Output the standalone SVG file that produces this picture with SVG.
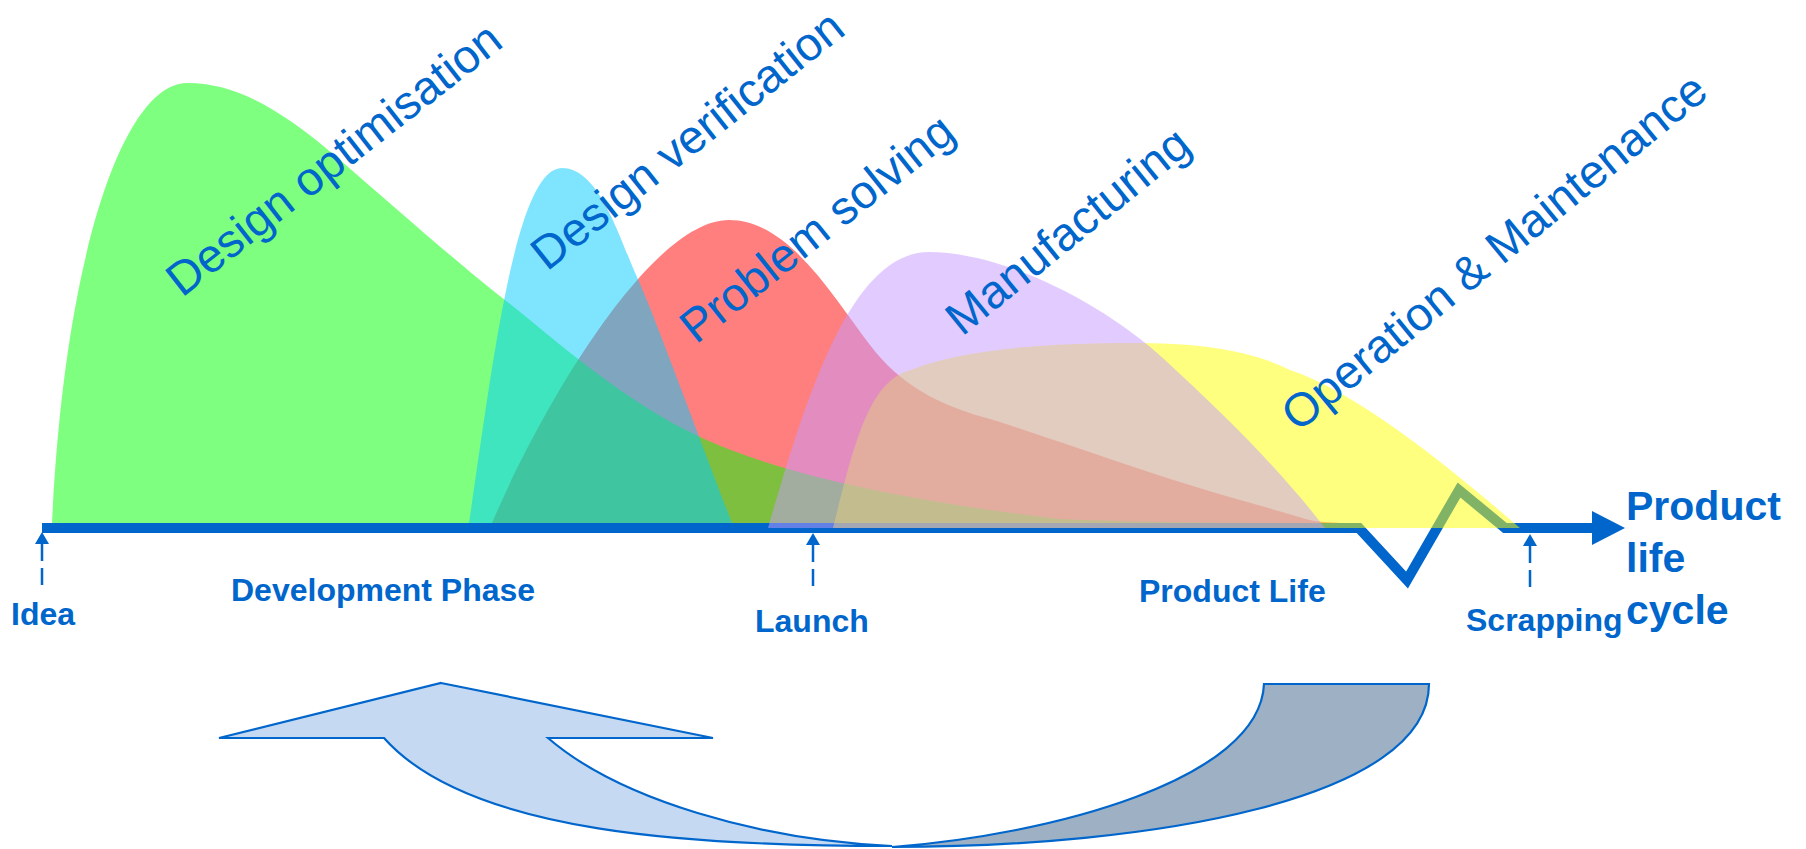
<svg xmlns="http://www.w3.org/2000/svg" width="1806" height="849" viewBox="0 0 1806 849">
<style>
.lbl{font-family:"Liberation Sans",Arial,sans-serif;font-size:47px;fill:#0066CC}
.b{font-family:"Liberation Sans",Arial,sans-serif;font-weight:bold;font-size:32px;fill:#0066CC}
.big{font-size:41px}
.sh{opacity:0.5}
.dash{stroke:#0066CC;stroke-width:2.5;stroke-dasharray:17 7;fill:none}
.ax{stroke:#0066CC;stroke-width:10;fill:none;stroke-linejoin:miter}
.ua{stroke:#0066CC;stroke-width:2.2;stroke-linejoin:miter}
</style>
<defs>
<path id="head" d="M0,0 L-7,12 L7,12 Z" fill="#0066CC"/>
</defs>
<rect width="1806" height="849" fill="#ffffff"/>
<g id="connectors">
<path class="ax" d="M42,528 L1359,528 L1407,580 L1459,490 L1505,528 L1596,528"/>
<path d="M1592,511 L1625,528 L1592,545 Z" fill="#0066CC"/>
<use href="#head" x="42" y="532"/>
<line class="dash" x1="42" y1="544" x2="42" y2="590"/>
<use href="#head" x="813" y="533"/>
<line class="dash" x1="813" y1="545" x2="813" y2="592"/>
<use href="#head" x="1530" y="534"/>
<line class="dash" x1="1530" y1="546" x2="1530" y2="593"/>
</g>
<g id="problem-solving">
<path class="sh" fill="#FF0000" d="M492,523 C540,410 650,220 729,220 C790,220 835,300 870,345 C900,385 940,405 983,417 S1150,475 1240,500 S1300,520 1340,523 Z"/>
</g>
<g id="design-optimisation">
<path class="sh" fill="#00FF00" d="M52,523 C65,250 125,83 187,83 C235,83 280,108 340,160 S460,265 505,300 S620,400 700,437 S900,500 1059,519 C1150,523 1250,523 1300,523 Z"/>
</g>
<g id="design-verification">
<path class="sh" fill="#00CCFF" d="M469,523 C492,370 515,168 562,168 C600,168 620,240 637,277 C654,314 700,440 732,523 Z"/>
</g>
<g id="operation-maintenance">
<path class="sh" fill="#FFFF00" d="M833,528 C855,440 870,380 911,370 C960,350 1040,343 1131,343 C1200,343 1250,350 1290,370 C1350,390 1430,450 1520,528 Z"/>
</g>
<g id="manufacturing">
<path class="sh" fill="#C599FF" d="M768,528 C805,400 850,252 929,252 C1000,252 1100,300 1165,360 S1280,470 1325,528 Z"/>
</g>
<g id="labels">
<text class="lbl" transform="translate(182,298) rotate(-38)">Design optimisation</text>
<text class="lbl" transform="translate(547,272) rotate(-38.5)">Design verification</text>
<text class="lbl" transform="translate(696,345) rotate(-38.5)">Problem solving</text>
<text class="lbl" transform="translate(962,337) rotate(-39)">Manufacturing</text>
<text class="lbl" transform="translate(1298,433) rotate(-39.3)">Operation &amp; Maintenance</text>
</g>
<g id="axis-labels">
<text class="b" x="11" y="625">Idea</text>
<text class="b" x="231" y="601">Development Phase</text>
<text class="b" x="755" y="632">Launch</text>
<text class="b" x="1139" y="602">Product Life</text>
<text class="b" x="1466" y="631">Scrapping</text>
<text class="b big" x="1626" y="520">Product</text>
<text class="b big" x="1626" y="572">life</text>
<text class="b big" x="1626" y="624">cycle</text>
</g>
<g id="feedback-arrow">
<path class="ua" fill="#9EB0C4" d="M1264,684 L1429,684 C1429,800 1150,847 892,847 C1050,835 1260,780 1264,684 Z"/>
<path class="ua" fill="#C5DAF2" d="M441,683 L713,738 L548,738 C620,800 760,840 892,846 C700,846 470,835 384,738 L219,738 Z"/>
</g>
</svg>
